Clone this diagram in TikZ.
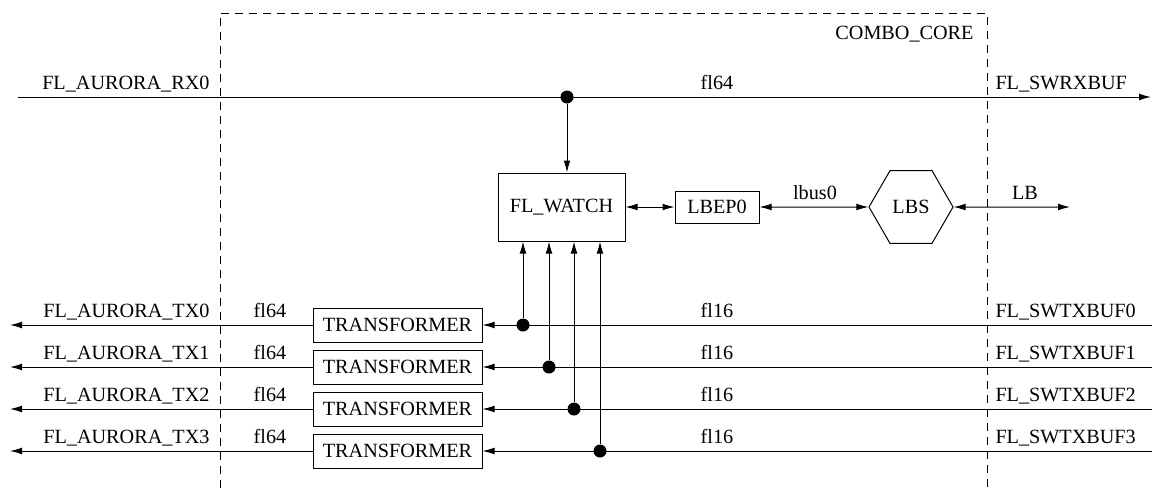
\documentclass[tikz,border=0pt]{standalone}
\usepackage{fontspec}
\setmainfont{Liberation Serif}
\usetikzlibrary{arrows.meta,shapes.geometric,calc}

\begin{document}
\begin{tikzpicture}[x=0.5pt,y=-0.5pt,line width=0.5pt,
    font=\fontsize{10.1pt}{12pt}\selectfont,
    >={Latex[length=6pt,width=3.4pt]},
    blk/.style={draw,inner sep=0pt},
    lbl/.style={inner sep=0pt},
    tapdot/.style={circle,fill,inner sep=0pt,minimum size=6.5pt}]
	\useasboundingbox (0,0) rectangle (1152,488);
    % combo core boundary
    \draw[dash pattern=on 4pt off 3pt] (220,488) -- (220,13) -- (987,13) -- (987,488);
    \node[lbl,anchor=base east] (core) at (974,39) {COMBO\_CORE};
    % blocks
    \node[blk,minimum width=63.5pt,minimum height=34pt] (watch) at (561.5,207) {FL\_WATCH};
    \node[blk,minimum width=42pt,minimum height=16pt] (lbep) at (717,207) {LBEP0};
    \node[draw,regular polygon,regular polygon sides=6,minimum size=42pt,inner sep=0pt] (lbs) at (911,207) {LBS};
    % rx path
    \coordinate (rxin) at (18,97);
    \coordinate (rxout) at (1151,97);
    \node[tapdot] (rxtap) at (567,97) {};
    \draw[->] (rxin) -- (rxout);
    \draw[->] (rxtap) -- (rxtap |- watch.north);
    \node[lbl,anchor=base east] (rxinlbl) at (210,89) {FL\_AURORA\_RX0};
    \node[lbl,anchor=base] (rxlbl) at (717,89) {fl64};
    \node[lbl,anchor=base west] (rxoutlbl) at (995,89) {FL\_SWRXBUF};
    % local bus
    \coordinate (lbout) at (1070,207);
    \draw[<->] (watch) -- (lbep);
    \draw[<->] (lbep) -- (lbs);
    \draw[<->] (lbs) -- (lbout);
    \node[lbl,anchor=base] (lbuslbl) at (815,199) {lbus0};
    \node[lbl,anchor=base] (lblbl) at (1025,199) {LB};
    % tx paths
    \foreach \i/\y/\x in {0/325/523,1/367/549,2/409/574,3/451/600} {
        \node[blk,minimum width=84.5pt,minimum height=17pt] (tr\i) at (397.5,\y) {TRANSFORMER};
        \coordinate (txout\i) at (10,\y);
        \coordinate (txin\i) at (1152,\y);
        \node[tapdot] (tap\i) at (\x,\y) {};
        \draw[->] (tr\i) -- (txout\i);
        \draw[->] (txin\i) -- (tr\i);
        \draw[->] (tap\i) -- (tap\i |- watch.south);
        \node[lbl,anchor=base east] (txoutlbl\i) at (210,\y-8) {FL\_AURORA\_TX\i};
        \node[lbl,anchor=base] (fl64lbl\i) at (270,\y-8) {fl64};
        \node[lbl,anchor=base] (fl16lbl\i) at (717,\y-8) {fl16};
        \node[lbl,anchor=base west] (txinlbl\i) at (995,\y-8) {FL\_SWTXBUF\i};
    }
\end{tikzpicture}
\end{document}
